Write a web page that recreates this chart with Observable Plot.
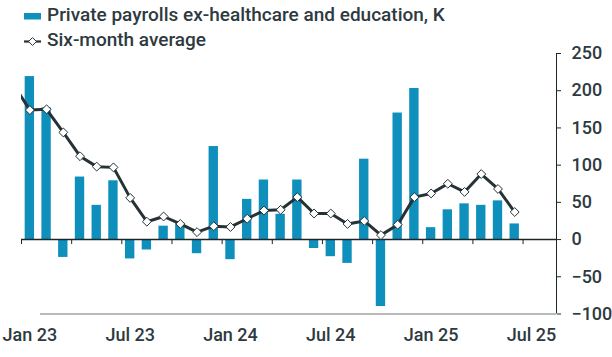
<!DOCTYPE html>
<html><head><meta charset="utf-8">
<script src="https://cdn.jsdelivr.net/npm/d3@7"></script>
<script src="https://cdn.jsdelivr.net/npm/@observablehq/plot@0.6"></script>
<style>
body{margin:0;background:#fff;}
#chart{width:612px;height:357px;}
</style></head><body>
<div id="chart"></div>
<script>
// Months shown as bars (Jan 23 .. Jun 25)
const months = ["Jan 23","Feb 23","Mar 23","Apr 23","May 23","Jun 23","Jul 23","Aug 23","Sep 23","Oct 23","Nov 23","Dec 23",
  "Jan 24","Feb 24","Mar 24","Apr 24","May 24","Jun 24","Jul 24","Aug 24","Sep 24","Oct 24","Nov 24","Dec 24",
  "Jan 25","Feb 25","Mar 25","Apr 25","May 25","Jun 25"];
// Private payrolls ex-healthcare and education, K
const payrolls = [219,177,-24,84,46,79,-26,-14,18,22,-19,125,-27,54,80,34,80,-12,-23,-32,108,-90,170,203,16,40,48,46,52,21];
// Six-month average months (starts one month earlier; clipped at left edge)
const avgMonths = ["Dec 22"].concat(months);
const sixMonthAvg = [209,174,175,144,112,98,97,56,24,31,21,10,18,17,28,39,40,57,35,35,21,25,6,20,57,62,75,64,88,68,37];
// Axis tick labels
const xTickLabels = ["Jan 23","Jul 23","Jan 24","Jul 24","Jan 25","Jul 25"];
const yTicks = [-100,-50,0,50,100,150,200,250];
const legendLabels = ["Private payrolls ex-healthcare and education, K","Six-month average"];

const BLUE = "#0f8fbb", DARK = "#263236", TEXT = "#2e3a3f";

const bars = payrolls.map((v,i)=>({i, month: months[i], v}));
const avg = sixMonthAvg.map((v,k)=>({i: k-1, month: avgMonths[k], v}));
const nSlots = months.length + 2; // two empty slots on the right of the last bar
const boundaries = d3.range(-0.5, months.length, 3);
const labelIdx = xTickLabels.map((l,k)=>k*6);

const chart = Plot.plot({
  width: 612, height: 357,
  marginLeft: 21, marginRight: 56, marginTop: 53, marginBottom: 43.5,
  style: {fontFamily: "Roboto, sans-serif", fontSize: "18px", fontWeight: 500, color: TEXT, background: "#fff"},
  x: {type: "linear", domain: [-0.5, nSlots - 0.5], axis: null},
  y: {domain: [yTicks[0], yTicks[yTicks.length-1]], axis: null},
  marks: [
    Plot.ruleY([yTicks[0]], {stroke: "#6f7779", strokeWidth: 1, insetLeft: 19}),
    Plot.rectY(bars, {x1: d=>d.i-0.28, x2: d=>d.i+0.28, y1: 0, y2: "v", fill: BLUE}),
    Plot.ruleY([0], {stroke: "#1c2629", strokeWidth: 1.5}),
    Plot.ruleX(boundaries, {y1: 0, y2: 0, insetBottom: -5, stroke: "#1c2629", strokeWidth: 1}),
    Plot.ruleX([nSlots - 0.5], {y1: yTicks[0], y2: yTicks[yTicks.length-1], stroke: "#1c2629", strokeWidth: 1}),
    Plot.axisY({anchor: "right", ticks: yTicks, tickSize: 4, tickPadding: 11, stroke: "#1c2629", fill: TEXT, fontSize: 18, label: null}),
    Plot.axisX({anchor: "bottom", ticks: labelIdx, tickFormat: (d)=>xTickLabels[d/6], tickSize: 0, tickPadding: 14, fill: TEXT, fontSize: 18, label: null}),
    Plot.line(avg, {x: "i", y: "v", stroke: DARK, strokeWidth: 3, clip: true}),
    Plot.dot(avg, {x: "i", y: "v", symbol: "diamond2", r: 4, fill: "white", stroke: DARK, strokeWidth: 1, clip: true})
  ]
});
document.getElementById("chart").appendChild(chart);

// Legend
const svg = d3.select(chart);
const lg = svg.append("g").attr("font-family","Roboto, sans-serif").attr("font-size",19).attr("font-weight",500)
  .attr("fill",TEXT).attr("text-anchor","start");
lg.append("rect").attr("x",24).attr("y",13).attr("width",17).attr("height",6.5).attr("fill",BLUE);
lg.append("text").attr("x",47).attr("y",21).text(legendLabels[0]);
lg.append("line").attr("x1",24).attr("x2",41).attr("y1",41.5).attr("y2",41.5).attr("stroke",DARK).attr("stroke-width",2.2);
lg.append("path").attr("d", d3.symbol(d3.symbolDiamond2, 40)()).attr("transform","translate(32.5,41.5)").attr("fill","white").attr("stroke",DARK).attr("stroke-width",1);
lg.append("text").attr("x",47).attr("y",45.5).text(legendLabels[1]);
</script>
</body></html>
